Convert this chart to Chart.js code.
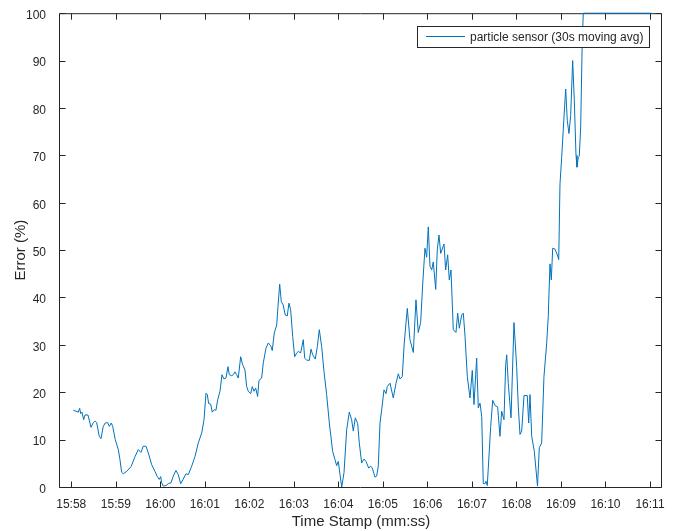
<!DOCTYPE html>
<html>
<head>
<meta charset="utf-8">
<script src="https://cdn.jsdelivr.net/npm/chart.js@4.4.1/dist/chart.umd.min.js"></script>
<style>
  html, body { margin: 0; padding: 0; background: #fff; }
  #wrap { width: 674px; height: 531px; }
</style>
</head>
<body>
<div id="wrap"><canvas id="chart" width="674" height="531"></canvas></div>
<script>
/* =============== Data =============== */
// time in seconds after 15:58:00
const seconds = [
  2.7, 6.3, 9.4, 11.3, 12.7, 14.4, 16.7, 18.5, 22.5, 26.6, 29.7, 32.3, 34.2, 37.7, 40.0, 43.1,
  45.8, 49.1, 51.2, 53.9, 55.8, 59.3, 63.4, 65.6, 67.9, 70.1, 74.7, 80.5, 85.9, 90.3, 93.9, 97.0,
  100.7, 103.8, 108.4, 112.8, 115.9, 118.6, 120.5, 121.8, 124.0, 127.6, 130.7, 134.4, 137.5, 141.1, 144.2, 147.5,
  151.0, 154.6, 157.7, 162.3, 166.7, 171.2, 175.8, 178.9, 181.6, 183.3, 185.2, 187.9, 190.0, 192.7, 195.0, 197.3,
  200.4, 203.1, 205.8, 208.5, 211.2, 213.0, 216.2, 218.4, 220.6, 222.9, 225.1, 228.3, 231.0, 234.1, 236.4, 238.6,
  241.8, 244.0, 246.3, 248.5, 251.2, 253.0, 256.6, 258.8, 262.4, 265.5, 268.8, 270.9, 273.6, 276.9, 278.6, 280.9,
  283.1, 285.7, 288.4, 291.1, 293.4, 295.7, 298.4, 301.1, 303.8, 306.0, 309.2, 312.7, 314.6, 317.3, 320.8, 323.1,
  325.4, 328.9, 331.6, 334.3, 337.5, 340.6, 344.2, 347.8, 352.3, 355.4, 357.7, 359.9, 362.2, 364.5, 367.6,
  371.2, 374.7, 377.9, 380.1, 382.8, 386.0, 388.2, 391.4, 394.5, 397.2, 400.9, 403.6, 405.7, 409.3, 411.6, 413.8,
  416.1, 418.4, 421.5, 424.2, 425.9, 429.6, 434.0, 437.7, 440.8, 443.0, 446.1, 448.8, 452.9, 456.5, 461.0, 464.6,
  467.7, 470.9, 473.6, 476.7, 479.0, 481.2, 483.5, 485.8, 487.9, 491.2, 493.3, 495.6, 497.9, 502.4, 504.6, 507.3,
  509.5, 511.8, 514.9, 518.5, 520.8, 523.0, 526.2, 528.4, 530.7, 533.8, 537.4, 540.5, 542.8, 546.4, 548.6, 550.9,
  553.2, 555.3, 557.6, 559.0, 560.7, 563.0, 565.3, 568.0, 571.1, 574.7, 577.8, 580.1, 583.2, 585.5, 586.9, 589.0,
  592.7, 596.7, 600.3, 602.5, 604.8, 607.1, 610.2, 614.6, 616.5, 618.3, 620.6, 624.1, 628.4, 630.8, 634.0, 637.1,
  640.8, 642.9, 645.2, 647.0, 648.9, 652.0, 655.1, 657.0, 658.7, 661.0, 664.1, 666.4, 668.5, 670.8, 673.1, 675.8,
  678.0, 680.3, 681.6, 683.4, 684.7, 686.6, 688.7, 690.1, 782.3
];
const errorPct = [
  16.2, 16.0, 15.8, 16.6, 15.5, 15.8, 14.2, 15.2, 15.2, 12.6, 13.6, 13.9, 13.6, 10.7, 10.2, 12.8,
  13.5, 13.6, 12.8, 13.5, 12.8, 10.0, 7.9, 5.8, 3.1, 2.8, 3.3, 4.3, 6.4, 7.9, 7.3, 8.6,
  8.6, 7.2, 4.7, 3.3, 2.2, 1.6, 2.2, 0.9, 0.2, 0.3, 0.7, 0.9, 2.3, 3.5, 2.6, 0.7,
  1.7, 2.8, 2.6, 4.4, 6.4, 9.3, 11.4, 14.2, 19.8, 19.5, 17.6, 17.5, 15.8, 16.3, 16.2, 18.4,
  20.2, 23.7, 22.8, 23.0, 25.4, 23.7, 23.5, 23.7, 24.3, 23.7, 23.0, 27.5, 25.8, 24.7, 21.2, 20.2,
  19.7, 21.2, 20.2, 20.9, 19.1, 22.5, 23.0, 26.2, 29.3, 30.4, 29.8, 28.8, 32.5, 34.2, 38.1, 42.8,
  39.1, 38.4, 36.3, 36.1, 38.8, 37.4, 31.8, 27.5, 28.3, 28.6, 28.3, 31.1, 27.2, 26.8, 26.7, 29.1,
  27.9, 27.0, 29.6, 33.2, 29.6, 24.4, 19.5, 13.5, 7.5, 5.8, 4.5, 5.4, 2.6, 0.0, 3.0,
  12.1, 15.8, 14.2, 11.8, 14.6, 13.4, 9.3, 5.1, 5.9, 5.4, 4.0, 4.4, 4.0, 2.1, 2.3, 4.4,
  13.5, 16.3, 20.5, 19.7, 21.2, 21.9, 18.8, 21.9, 23.9, 22.8, 23.3, 30.4, 37.7, 31.1, 28.4, 39.5,
  32.6, 34.7, 42.6, 50.4, 48.5, 54.9, 46.6, 45.8, 47.5, 41.7, 50.0, 53.2, 49.3, 51.3, 45.8, 49.0,
  43.7, 45.8, 33.2, 32.6, 36.7, 33.5, 36.3, 36.7, 31.8, 23.3, 18.8, 24.6, 17.4, 27.2, 16.7, 17.7,
  14.9, 0.7, 0.7, 1.2, 0.3, 6.5, 12.8, 18.3, 17.2, 16.9, 10.7, 16.0, 14.2, 25.8, 27.9, 21.9,
  14.6, 34.7, 25.4, 17.0, 11.1, 11.8, 19.3, 19.3, 13.5, 19.5, 10.7, 7.5, 0.2, 8.3, 9.3, 23.3,
  30.4, 36.0, 47.1, 43.7, 50.4, 50.2, 49.0, 48.0, 64.0, 69.6, 78.1, 84.0, 77.4, 74.6, 78.4, 90.0,
  81.6, 70.0, 67.5, 69.6, 69.8, 76.0, 94.2, 100, 100
];
const seriesLabel = "particle sensor (30s moving avg)";
const xTickSeconds = [0, 60, 120, 180, 240, 300, 360, 420, 480, 540, 600, 660, 720, 780];
const xTickLabels = ["15:58", "15:59", "16:00", "16:01", "16:02", "16:03", "16:04",
                     "16:05", "16:06", "16:07", "16:08", "16:09", "16:10", "16:11"];
const yTicks = [0, 10, 20, 30, 40, 50, 60, 70, 80, 90, 100];

/* =============== Style =============== */
const FONT = "'Liberation Sans', Arial, Helvetica, sans-serif";
const AXIS = "#262626";
const LINE = "#0072BD";

/* =============== Frame, inward ticks, legend =============== */
const matlabAxes = {
  id: "matlabAxes",
  // box + ticks go under the data line so the capped 100% run shows on the top edge
  beforeDatasetsDraw(chart) {
    const { ctx, chartArea: a, scales: { x, y } } = chart;
    const L = a.left - 0.5, R = a.right - 0.5, T = a.top + 0.5, B = a.bottom + 0.5;
    const tick = 6;

    ctx.save();
    ctx.strokeStyle = AXIS;
    ctx.lineWidth = 1;
    ctx.beginPath();
    ctx.rect(L, T, R - L, B - T);
    for (const v of xTickSeconds) {
      const px = Math.round(x.getPixelForValue(v)) + 0.5;
      ctx.moveTo(px, B); ctx.lineTo(px, B - tick);
      ctx.moveTo(px, T); ctx.lineTo(px, T + tick);
    }
    for (const v of yTicks) {
      const py = Math.round(y.getPixelForValue(v)) + 0.5;
      ctx.moveTo(L, py); ctx.lineTo(L + tick, py);
      ctx.moveTo(R, py); ctx.lineTo(R - tick, py);
    }
    ctx.stroke();
    ctx.restore();
  },
  afterDraw(chart) {
    const { ctx, chartArea: a } = chart;
    // legend box, top right inside the axes
    ctx.save();
    ctx.lineWidth = 1;
    ctx.font = "12px " + FONT;
    const tw = ctx.measureText(seriesLabel).width;
    const bw = Math.round(8 + 39 + 5 + tw + 7);
    const bx = Math.round(a.right - 12) - bw - 0.5, by = Math.round(a.top + 13) + 0.5, bh = 21;
    ctx.fillStyle = "#fff";
    ctx.fillRect(bx, by, bw, bh);
    ctx.strokeStyle = AXIS;
    ctx.strokeRect(bx, by, bw, bh);
    ctx.strokeStyle = LINE;
    ctx.beginPath();
    ctx.moveTo(bx + 8.5, by + 10); ctx.lineTo(bx + 47.5, by + 10);
    ctx.stroke();
    ctx.fillStyle = AXIS;
    ctx.textBaseline = "middle";
    ctx.fillText(seriesLabel, bx + 52.5, by + 11);
    ctx.restore();
  }
};

/* =============== Chart =============== */
const fmtTime = (v) => {
  const i = xTickSeconds.indexOf(v);
  return i >= 0 ? xTickLabels[i] : "";
};

new Chart(document.getElementById("chart"), {
  type: "line",
  data: {
    datasets: [{
      label: seriesLabel,
      data: seconds.map((s, i) => ({ x: s, y: errorPct[i] })),
      borderColor: LINE,
      borderWidth: 1,
      pointRadius: 0,
      tension: 0,
      fill: false,
      clip: 2
    }]
  },
  options: {
    responsive: false,
    animation: false,
    devicePixelRatio: 1,
    layout: { padding: { left: 0, right: 12, top: 12, bottom: 0 } },
    plugins: { legend: { display: false }, tooltip: { enabled: false } },
    scales: {
      x: {
        type: "linear",
        min: -15.2,
        max: 796.2,
        afterBuildTicks: (s) => { s.ticks = xTickSeconds.map(v => ({ value: v })); },
        afterFit: (s) => { s.height = 44; },
        grid: { display: false },
        border: { display: false },
        ticks: {
          autoSkip: false,
          maxRotation: 0,
          padding: 2,
          color: AXIS,
          font: { family: FONT, size: 12 },
          callback: fmtTime
        },
        title: {
          display: true,
          text: "Time Stamp (mm:ss)",
          color: AXIS,
          font: { family: FONT, size: 15 },
          padding: { top: 0, bottom: 0 }
        }
      },
      y: {
        min: 0,
        max: 100,
        afterBuildTicks: (s) => { s.ticks = yTicks.map(v => ({ value: v })); },
        afterFit: (s) => { s.width = 60; },
        grid: { display: false },
        border: { display: false },
        ticks: {
          padding: 6,
          labelOffset: 2.5,
          color: AXIS,
          font: { family: FONT, size: 12 }
        },
        title: {
          display: true,
          text: "Error (%)",
          color: AXIS,
          font: { family: FONT, size: 15 },
          padding: { top: 12, bottom: 0 }
        }
      }
    }
  },
  plugins: [matlabAxes]
});
</script>
</body>
</html>
